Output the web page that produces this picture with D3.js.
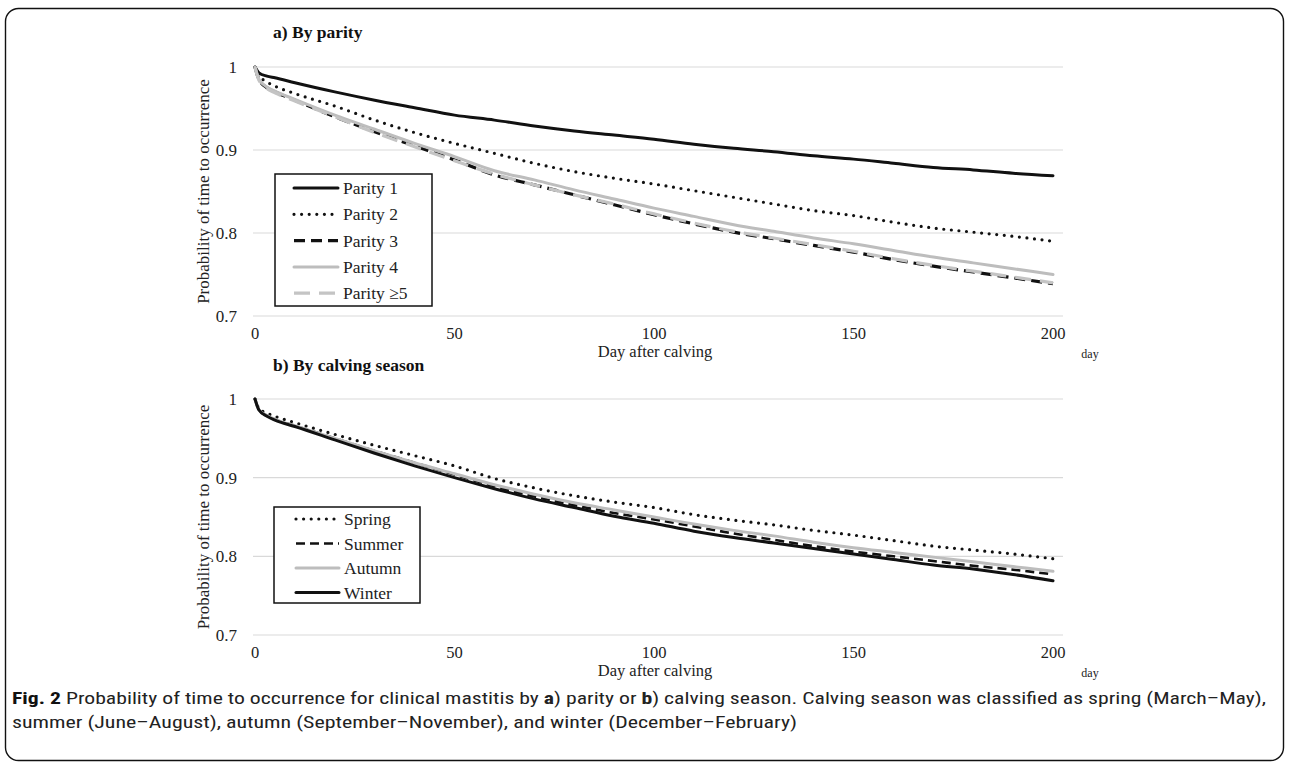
<!DOCTYPE html>
<html>
<head>
<meta charset="utf-8">
<script src="https://cdn.jsdelivr.net/npm/d3@7"></script>
<style>
  html, body { margin: 0; padding: 0; background: #fff; }
  svg { display: block; }
</style>
</head>
<body>
<svg id="chart" width="1290" height="766"></svg>
<script>
// ---------------- DATA ----------------
const days = [0, 1, 3, 5, 10, 20, 30, 40, 50, 60, 70, 80, 90, 100, 110, 120, 130, 140, 150, 160, 170, 180, 190, 200];

const parity1 = [1, 0.993, 0.989, 0.987, 0.981, 0.970, 0.960, 0.951, 0.942, 0.936, 0.929, 0.923, 0.918, 0.913, 0.907, 0.902, 0.898, 0.893, 0.889, 0.884, 0.879, 0.876, 0.872, 0.869];
const parity2 = [1, 0.990, 0.982, 0.977, 0.968, 0.953, 0.936, 0.921, 0.908, 0.896, 0.884, 0.874, 0.866, 0.859, 0.851, 0.843, 0.835, 0.827, 0.821, 0.813, 0.806, 0.801, 0.796, 0.790];
const parity3 = [1, 0.985, 0.975, 0.970, 0.960, 0.940, 0.922, 0.905, 0.888, 0.870, 0.858, 0.846, 0.834, 0.822, 0.811, 0.801, 0.793, 0.785, 0.777, 0.768, 0.760, 0.753, 0.746, 0.739];
const parity4 = [1, 0.985, 0.976, 0.971, 0.961, 0.942, 0.925, 0.908, 0.892, 0.875, 0.864, 0.852, 0.841, 0.830, 0.820, 0.810, 0.802, 0.794, 0.787, 0.779, 0.771, 0.764, 0.757, 0.750];
const parity5 = [1, 0.984, 0.974, 0.969, 0.959, 0.940, 0.921, 0.904, 0.887, 0.871, 0.858, 0.846, 0.835, 0.823, 0.812, 0.802, 0.794, 0.786, 0.778, 0.769, 0.761, 0.754, 0.747, 0.740];

const spring = [1, 0.988, 0.982, 0.978, 0.970, 0.955, 0.941, 0.928, 0.915, 0.899, 0.887, 0.877, 0.869, 0.862, 0.853, 0.846, 0.840, 0.833, 0.827, 0.820, 0.813, 0.808, 0.803, 0.797];
const summer = [1, 0.986, 0.979, 0.974, 0.966, 0.950, 0.934, 0.919, 0.904, 0.889, 0.876, 0.865, 0.855, 0.847, 0.838, 0.829, 0.821, 0.813, 0.806, 0.800, 0.794, 0.788, 0.783, 0.777];
const autumn = [1, 0.986, 0.979, 0.974, 0.966, 0.950, 0.934, 0.919, 0.905, 0.891, 0.879, 0.868, 0.859, 0.850, 0.841, 0.833, 0.826, 0.818, 0.811, 0.805, 0.799, 0.793, 0.787, 0.781];
const winter = [1, 0.986, 0.978, 0.973, 0.965, 0.948, 0.931, 0.915, 0.900, 0.886, 0.873, 0.862, 0.851, 0.842, 0.832, 0.824, 0.817, 0.810, 0.803, 0.796, 0.789, 0.784, 0.777, 0.769];

const parityNames = ["Parity 1", "Parity 2", "Parity 3", "Parity 4", "Parity \u22655"];
const seasonNames = ["Spring", "Summer", "Autumn", "Winter"];
const xTicks = [0, 50, 100, 150, 200];
const yTicks = [0.7, 0.8, 0.9, 1];
const yTickLabels = ["0.7", "0.8", "0.9", "1"];

// ---------------- STYLES ----------------
const styles = {
  solidBlack: { stroke: "#111", width: 3, dash: null, cap: "round" },
  dotted:     { stroke: "#111", width: 3.2, dash: "0,7.6", cap: "round" },
  dashBlack:  { stroke: "#111", width: 3.2, dash: "11,6", cap: "butt" },
  solidGrey:  { stroke: "#bdbdbd", width: 3, dash: null, cap: "round" },
  dashGrey:   { stroke: "#c4c4c4", width: 3.2, dash: "16,9", cap: "butt" },
  dashBlackThin: { stroke: "#111", width: 2.6, dash: "9,5", cap: "butt" }
};

const svg = d3.select("#chart");
const serif = "'Liberation Serif', 'Times New Roman', serif";

// frame
svg.append("rect")
  .attr("x", 5.5).attr("y", 8.5)
  .attr("width", 1278).attr("height", 752)
  .attr("rx", 13).attr("ry", 13)
  .attr("fill", "none").attr("stroke", "#111").attr("stroke-width", 1.4);

function panel(cfg) {
  const x = d3.scaleLinear().domain([0, 200]).range([255, 1053]);
  const y = d3.scaleLinear().domain([0.7, 1]).range([cfg.y0, cfg.y1]);
  const g = svg.append("g");

  // title
  g.append("text")
    .attr("x", 273).attr("y", cfg.titleY)
    .attr("dy", "0.35em")
    .attr("font-family", serif).attr("font-weight", "bold")
    .attr("font-size", 17.5).attr("fill", "#111")
    .text(cfg.title);

  // gridlines
  g.selectAll("line.grid").data(yTicks).enter().append("line")
    .attr("x1", 253).attr("x2", 1063)
    .attr("y1", d => y(d)).attr("y2", d => y(d))
    .attr("stroke", "#d9d9d9").attr("stroke-width", 1.2);

  // y tick labels
  g.selectAll("text.yt").data(yTicks).enter().append("text")
    .attr("x", 237).attr("y", d => y(d)).attr("dy", "0.35em")
    .attr("text-anchor", "end")
    .attr("font-family", serif).attr("font-size", 17).attr("fill", "#222")
    .text((d, i) => yTickLabels[i]);

  // x tick labels
  g.selectAll("text.xt").data(xTicks).enter().append("text")
    .attr("x", d => x(d)).attr("y", y(0.7) + 17).attr("dy", "0.35em")
    .attr("text-anchor", "middle")
    .attr("font-family", serif).attr("font-size", 16.5).attr("fill", "#222")
    .text(d => d);

  // axis titles
  g.append("text")
    .attr("x", 655).attr("y", y(0.7) + 35).attr("dy", "0.35em")
    .attr("text-anchor", "middle")
    .attr("font-family", serif).attr("font-size", 16.5).attr("fill", "#222")
    .text("Day after calving");
  g.append("text")
    .attr("x", 1090).attr("y", y(0.7) + 38).attr("dy", "0.35em")
    .attr("text-anchor", "middle")
    .attr("font-family", serif).attr("font-size", 12).attr("fill", "#222")
    .text("day");
  const cy = (y(0.7) + y(1)) / 2;
  g.append("text")
    .attr("transform", `translate(203,${cy}) rotate(-90)`)
    .attr("dy", "0.35em")
    .attr("text-anchor", "middle")
    .attr("font-family", serif).attr("font-size", 17).attr("fill", "#222")
    .text("Probability of time to occurrence");

  // series
  const line = d3.line().x((d, i) => x(days[i])).y(d => y(d)).curve(d3.curveMonotoneX);
  cfg.series.forEach(s => {
    const st = styles[s.style];
    g.append("path")
      .datum(s.values)
      .attr("d", line)
      .attr("fill", "none")
      .attr("stroke", st.stroke)
      .attr("stroke-width", st.width)
      .attr("stroke-linecap", st.cap)
      .attr("stroke-linejoin", "round")
      .attr("stroke-dasharray", st.dash);
  });

  // legend
  const L = cfg.legend;
  g.append("rect")
    .attr("x", L.x).attr("y", L.y).attr("width", L.w).attr("height", L.h)
    .attr("fill", "#fff").attr("stroke", "#111").attr("stroke-width", 1.5);
  cfg.series.forEach((s, i) => {
    const st = styles[s.style];
    const yy = L.y + L.first + i * L.step;
    g.append("line")
      .attr("x1", L.sx1).attr("x2", L.sx2).attr("y1", yy).attr("y2", yy)
      .attr("stroke", st.stroke).attr("stroke-width", st.width)
      .attr("stroke-linecap", st.cap)
      .attr("stroke-dasharray", st.dash);
    g.append("text")
      .attr("x", L.sx2 + 5).attr("y", yy).attr("dy", "0.35em")
      .attr("font-family", serif).attr("font-size", 17.5).attr("fill", "#222")
      .text(s.name);
  });
}

panel({
  title: "a) By parity", titleY: 32, y0: 316, y1: 67,
  series: [
    { name: parityNames[0], values: parity1, style: "solidBlack" },
    { name: parityNames[1], values: parity2, style: "dotted" },
    { name: parityNames[2], values: parity3, style: "dashBlack" },
    { name: parityNames[3], values: parity4, style: "solidGrey" },
    { name: parityNames[4], values: parity5, style: "dashGrey" }
  ],
  legend: { x: 275, y: 174, w: 157, h: 132, first: 14, step: 26.3, sx1: 294, sx2: 338 }
});

panel({
  title: "b) By calving season", titleY: 365, y0: 635, y1: 399,
  series: [
    { name: seasonNames[0], values: spring, style: "dotted" },
    { name: seasonNames[1], values: summer, style: "dashBlackThin" },
    { name: seasonNames[2], values: autumn, style: "solidGrey" },
    { name: seasonNames[3], values: winter, style: "solidBlack" }
  ],
  legend: { x: 274, y: 507, w: 146, h: 96, first: 12, step: 24.5, sx1: 296, sx2: 339 }
});

// caption
const capFont = "'Liberation Sans Narrow', 'Roboto Condensed', 'Open Sans', 'Noto Sans', sans-serif";
const cap1 = svg.append("text")
  .attr("x", 12).attr("y", 704)
  .attr("font-family", capFont).attr("font-size", 17).attr("fill", "#222")
  .attr("textLength", 1254).attr("lengthAdjust", "spacingAndGlyphs");
cap1.append("tspan").attr("font-weight", "bold").attr("fill", "#111").text("Fig. 2");
cap1.append("tspan").text(" Probability of time to occurrence for clinical mastitis by ");
cap1.append("tspan").attr("font-weight", "bold").text("a");
cap1.append("tspan").text(") parity or ");
cap1.append("tspan").attr("font-weight", "bold").text("b");
cap1.append("tspan").text(") calving season. Calving season was classified as spring (March\u2013May),");

svg.append("text")
  .attr("x", 12).attr("y", 728)
  .attr("font-family", capFont).attr("font-size", 17).attr("fill", "#222")
  .attr("textLength", 785).attr("lengthAdjust", "spacingAndGlyphs")
  .text("summer (June\u2013August), autumn (September\u2013November), and winter (December\u2013February)");
</script>
</body>
</html>
